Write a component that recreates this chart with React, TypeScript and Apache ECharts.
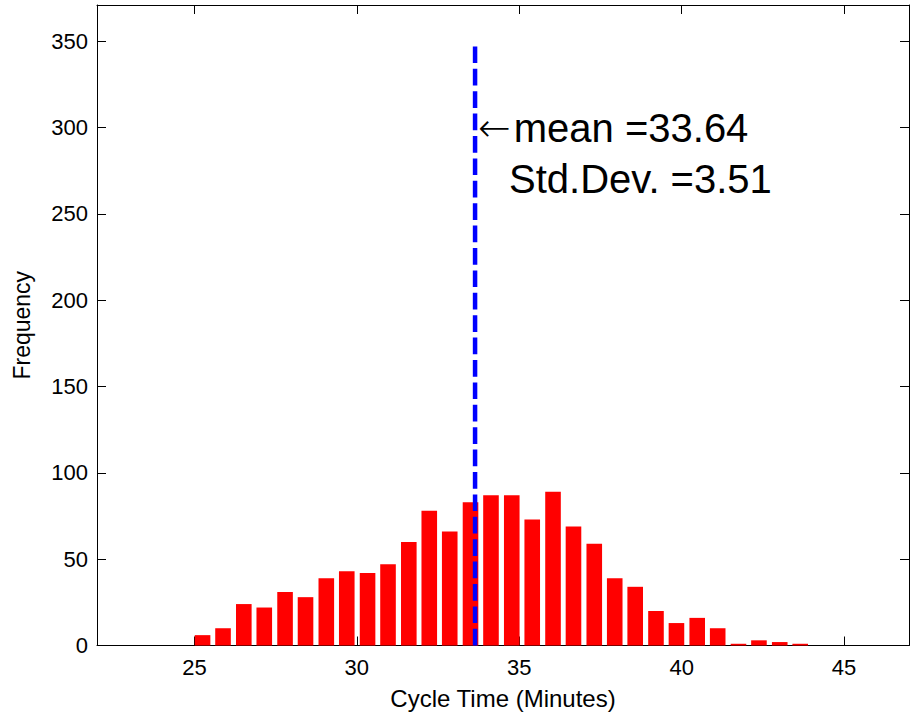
import React, { useEffect, useRef } from "react";
import * as echarts from "echarts";

// ---- data ----
const binCenters = [
  25.25, 25.88, 26.52, 27.15, 27.79, 28.42, 29.06, 29.69, 30.33, 30.96,
  31.6, 32.23, 32.86, 33.5, 34.13, 34.77, 35.4, 36.04, 36.67, 37.31,
  37.94, 38.57, 39.21, 39.84, 40.48, 41.11, 41.75, 42.38, 43.02, 43.65,
];
const frequencies = [
  6, 10, 24, 22, 31, 28, 39, 43, 42, 47, 60, 78, 66, 83, 87, 87, 73, 89, 69,
  59, 39, 34, 20, 13, 16, 10, 1, 3, 2, 1,
];
const xTickValues = [25, 30, 35, 40, 45];
const meanValue = 33.64;
const stdDevValue = 3.51;
const meanLineTop = 350;
const annotationY = 300;

const FONT = '"Liberation Sans", Arial, Helvetica, sans-serif';

export default function App() {
  const ref = useRef<HTMLDivElement>(null);

  useEffect(() => {
    if (!ref.current) return;
    const chart = echarts.init(ref.current, null, { renderer: "svg" });
    const axisLine = { show: true, onZero: false, lineStyle: { color: "#000", width: 1 } };
    const tickStyle = { color: "#000", width: 1 };
    const labelStyle = { color: "#000", fontSize: 22, fontFamily: FONT };

    chart.setOption({
      animation: false,
      grid: { left: 97, right: 4, top: 5, bottom: 75.5, containLabel: false },
      xAxis: [
        {
          type: "value",
          position: "bottom",
          min: 22,
          max: 47,
          axisLine,
          axisTick: { show: true, inside: true, length: 9, customValues: xTickValues, lineStyle: tickStyle },
          axisLabel: { ...labelStyle, margin: 11, customValues: xTickValues },
          splitLine: { show: false },
          name: "Cycle Time (Minutes)",
          nameLocation: "middle",
          nameGap: 41,
          nameTextStyle: { color: "#000", fontSize: 24, fontFamily: FONT },
        },
        {
          type: "value",
          position: "top",
          min: 22,
          max: 47,
          axisLine,
          axisTick: { show: true, inside: true, length: 9, customValues: xTickValues, lineStyle: tickStyle },
          axisLabel: { show: false },
          splitLine: { show: false },
        },
      ],
      yAxis: [
        {
          type: "value",
          position: "left",
          min: 0,
          max: 371,
          interval: 50,
          axisLine,
          axisTick: { show: true, inside: true, length: 9, lineStyle: tickStyle },
          axisLabel: { ...labelStyle, margin: 9, showMaxLabel: false },
          splitLine: { show: false },
          name: "Frequency",
          nameLocation: "middle",
          nameRotate: 90,
          nameGap: 64,
          nameTextStyle: { color: "#000", fontSize: 23, fontFamily: FONT },
        },
        {
          type: "value",
          position: "right",
          min: 0,
          max: 371,
          interval: 50,
          axisLine,
          axisTick: { show: true, inside: true, length: 9, lineStyle: tickStyle },
          axisLabel: { show: false },
          splitLine: { show: false },
        },
      ],
      series: [
        {
          type: "bar",
          xAxisIndex: 0,
          yAxisIndex: 0,
          barWidth: 15.6,
          data: binCenters.map((c, i) => [c, frequencies[i]]),
          itemStyle: { color: "#ff0000" },
          z: 2,
        },
        {
          type: "line",
          xAxisIndex: 0,
          yAxisIndex: 0,
          symbol: "none",
          data: [
            [meanValue, 0],
            [meanValue, meanLineTop],
          ],
          lineStyle: { color: "#0000ff", width: 4.5, type: [16.7, 5.7] },
          z: 3,
        },
      ],
    });

    const p = chart.convertToPixel({ xAxisIndex: 0, yAxisIndex: 0 }, [meanValue, annotationY]) as number[];
    chart.setOption({
      graphic: [
        {
          type: "text",
          x: p[0] + 3,
          y: p[1],
          z: 10,
          style: {
            text: "{arr|\u2190}mean =" + meanValue.toFixed(2),
            fontSize: 40,
            fontFamily: FONT,
            fill: "#000",
            align: "left",
            verticalAlign: "middle",
            rich: {
              arr: {
                fontFamily: '"DejaVu Sans", sans-serif',
                fontWeight: 200,
                fontSize: 39,
                fill: "#000",
                padding: [0, 3, 0, 0],
              },
            },
          },
        },
        {
          type: "text",
          x: p[0] + 34,
          y: p[1] + 51,
          z: 10,
          style: {
            text: "Std.Dev. =" + stdDevValue.toFixed(2),
            fontSize: 40,
            fontFamily: FONT,
            fill: "#000",
            align: "left",
            verticalAlign: "middle",
          },
        },
      ],
    });

    return () => chart.dispose();
  }, []);

  return (
    <div
      ref={ref}
      style={{ position: "fixed", left: 0, top: 0, width: 913, height: 721, background: "#fff" }}
    />
  );
}
